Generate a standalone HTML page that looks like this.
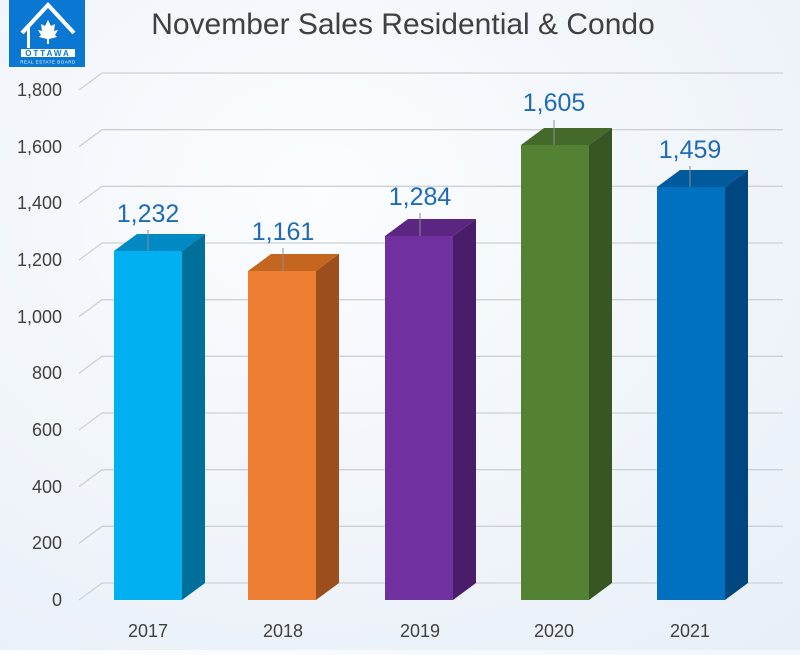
<!DOCTYPE html>
<html><head><meta charset="utf-8"><style>
html,body{margin:0;padding:0}
body{width:800px;height:650px;overflow:hidden;background:linear-gradient(135deg,#ffffff 0%,#f4f8fc 40%,#eef3f9 100%);font-family:"Liberation Sans",sans-serif}
</style></head><body>
<svg width="800" height="650" viewBox="0 0 800 650" xmlns="http://www.w3.org/2000/svg" font-family="Liberation Sans, sans-serif">
<defs>
<radialGradient id="bg" cx="0.4" cy="0.3" r="0.9"><stop offset="0" stop-color="#fbfdff"/><stop offset="1" stop-color="#e8eff7"/></radialGradient>
</defs>
<rect width="800" height="650" fill="url(#bg)"/>
<rect x="9" y="0" width="76" height="67" fill="#0a78d2"/>
<polyline points="22,33 48,5 74,33" fill="none" stroke="#fff" stroke-width="4"/>
<rect x="27" y="24" width="3" height="24" fill="#fff"/>
<path d="M48,20 l3,6 4,-2 -1,7 4,-1 -3,5 2,2 -8,2 v5 h-2 v-5 l-8,-2 2,-2 -3,-5 4,1 -1,-7 4,2z" fill="#fff"/>
<rect x="21" y="49" width="54" height="8" fill="#fff"/>
<text x="48" y="56" font-size="8" font-weight="bold" fill="#0a78d2" text-anchor="middle" letter-spacing="2">OTTAWA</text>
<text x="48" y="63.5" font-size="4.5" fill="#fff" text-anchor="middle" letter-spacing="0.5">REAL ESTATE BOARD</text>
<text x="403" y="34" font-size="30" fill="#404040" text-anchor="middle">November Sales Residential &amp; Condo</text>
<g stroke="#cdd1d6" stroke-width="1.3" fill="none">
<path d="M79,600 L102,583 H783"/>
<path d="M79,543.3 L102,526.3 H783"/>
<path d="M79,486.7 L102,469.7 H783"/>
<path d="M79,430 L102,413 H783"/>
<path d="M79,373.3 L102,356.3 H783"/>
<path d="M79,316.7 L102,299.7 H783"/>
<path d="M79,260 L102,243 H783"/>
<path d="M79,203.3 L102,186.3 H783"/>
<path d="M79,146.7 L102,129.7 H783"/>
<path d="M79,90 L102,73 H783"/>
</g>
<g font-size="18" fill="#404040" text-anchor="end">
<text x="62" y="606">0</text>
<text x="62" y="549">200</text>
<text x="62" y="493">400</text>
<text x="62" y="436">600</text>
<text x="62" y="379">800</text>
<text x="62" y="323">1,000</text>
<text x="62" y="266">1,200</text>
<text x="62" y="209">1,400</text>
<text x="62" y="153">1,600</text>
<text x="62" y="96">1,800</text>
</g>
<g>
<polygon points="114,251 137,234 205,234 182,251" fill="#0089c2"/>
<polygon points="182,251 205,234 205,583 182,600" fill="#006f9a"/>
<rect x="114" y="251" width="68" height="349" fill="#00b0f0"/>
<polygon points="248,271 271,254 339,254 316,271" fill="#c4661f"/>
<polygon points="316,271 339,254 339,583 316,600" fill="#9c4e1c"/>
<rect x="248" y="271" width="68" height="329" fill="#ed7d31"/>
<polygon points="385,236 408,219 476,219 453,236" fill="#5a2682"/>
<polygon points="453,236 476,219 476,583 453,600" fill="#4a1d6b"/>
<rect x="385" y="236" width="68" height="364" fill="#7030a0"/>
<polygon points="521,145 544,128 612,128 589,145" fill="#44692b"/>
<polygon points="589,145 612,128 612,583 589,600" fill="#375623"/>
<rect x="521" y="145" width="68" height="455" fill="#548235"/>
<polygon points="657,187 680,170 748,170 725,187" fill="#005a9c"/>
<polygon points="725,187 748,170 748,583 725,600" fill="#004680"/>
<rect x="657" y="187" width="68" height="413" fill="#0070c0"/>
</g>
<g stroke="#8a8f96" stroke-width="1">
<line x1="148" y1="230" x2="148" y2="251"/>
<line x1="283" y1="248" x2="283" y2="271"/>
<line x1="420" y1="213" x2="420" y2="236"/>
<line x1="554" y1="120" x2="554" y2="145"/>
<line x1="690" y1="166" x2="690" y2="187"/>
</g>
<g font-size="25" fill="#1f6bb8" text-anchor="middle">
<text x="148" y="222">1,232</text>
<text x="283" y="240">1,161</text>
<text x="420" y="205">1,284</text>
<text x="554" y="111">1,605</text>
<text x="690" y="158">1,459</text>
</g>
<g font-size="18" fill="#404040" text-anchor="middle">
<text x="148" y="637">2017</text>
<text x="283" y="637">2018</text>
<text x="420" y="637">2019</text>
<text x="554" y="637">2020</text>
<text x="690" y="637">2021</text>
</g>
</svg>
</body></html>
